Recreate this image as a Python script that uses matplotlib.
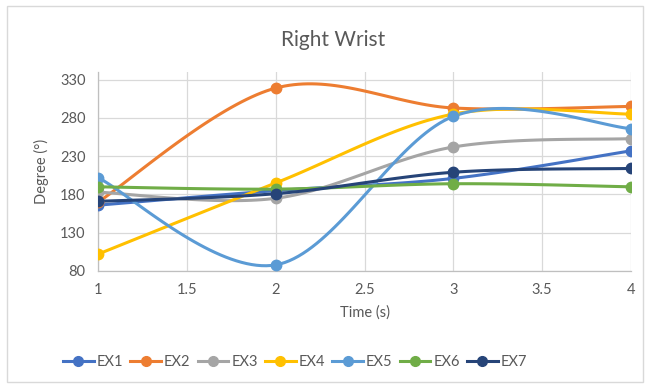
import numpy as np
import matplotlib.pyplot as plt
from matplotlib.patches import Rectangle

plt.rcParams['font.family'] = ['Lato', 'DejaVu Sans']

time_s = [1, 2, 3, 4]
ex1 = [166, 185, 201, 237]
ex2 = [170, 319, 293, 295]
ex3 = [183, 175, 242, 253]
ex4 = [102, 195, 285, 285]
ex5 = [202, 88, 282, 266]
ex6 = [190, 187, 194, 190]
ex7 = [171, 181, 209, 214]

names = ['EX1', 'EX2', 'EX3', 'EX4', 'EX5', 'EX6', 'EX7']
series = [ex1, ex2, ex3, ex4, ex5, ex6, ex7]
colors = ['#4472C4', '#ED7D31', '#A5A5A5', '#FFC000', '#5B9BD5', '#70AD47', '#264478']
text_color = '#595959'


def smooth(x, y, n=40):
    # cubic bezier through the points, spreadsheet-style smoothed line
    x = np.asarray(x, float)
    y = np.asarray(y, float)
    px = np.concatenate([[x[0]], x, [x[-1]]])
    py = np.concatenate([[y[0]], y, [y[-1]]])
    xs, ys = [], []
    t = np.linspace(0, 1, n)
    for i in range(1, len(px) - 2):
        p0 = np.array([px[i], py[i]])
        p3 = np.array([px[i + 1], py[i + 1]])
        p1 = p0 + (np.array([px[i + 1], py[i + 1]]) - np.array([px[i - 1], py[i - 1]])) / 6
        p2 = p3 - (np.array([px[i + 2], py[i + 2]]) - np.array([px[i], py[i]])) / 6
        b = ((1 - t) ** 3)[:, None] * p0 + (3 * (1 - t) ** 2 * t)[:, None] * p1 \
            + (3 * (1 - t) * t ** 2)[:, None] * p2 + (t ** 3)[:, None] * p3
        xs.extend(b[:, 0])
        ys.extend(b[:, 1])
    return xs, ys


fig = plt.figure(figsize=(6.5, 3.85), dpi=100)
ax = fig.add_axes([98 / 650, 1 - 271 / 385, 533 / 650, 199 / 385])

handles = []
for name, vals, c in zip(names, series, colors):
    sx, sy = smooth(time_s, vals)
    ax.plot(sx, sy, color=c, lw=2.2, solid_capstyle='round', zorder=3)
    ax.plot(time_s, vals, 'o', color=c, ms=7.5, zorder=4)
    h, = ax.plot([], [], color=c, lw=2.2, marker='o', ms=7, label=name)
    handles.append(h)

ax.set_xlim(1, 4)
ax.set_ylim(80, 340)
ax.set_xticks([1, 1.5, 2, 2.5, 3, 3.5, 4])
ax.set_xticklabels(['1', '1.5', '2', '2.5', '3', '3.5', '4'])
ax.set_yticks([80, 130, 180, 230, 280, 330])
ax.grid(True, color='#D9D9D9', lw=0.9)
ax.set_axisbelow(True)
for s in ['top', 'right']:
    ax.spines[s].set_visible(False)
for s in ['left', 'bottom']:
    ax.spines[s].set_color('#BFBFBF')
    ax.spines[s].set_linewidth(0.9)
ax.tick_params(length=0, labelsize=10.5, colors=text_color, pad=9)

fig.text(333 / 650, 1 - 40 / 385, 'Right Wrist', fontsize=15, color=text_color,
         ha='center', va='center')
ax.set_xlabel('Time (s)', fontsize=10.5, color=text_color, labelpad=6)
ax.set_ylabel('Degree (°)', fontsize=10.5, color=text_color, labelpad=8)

fig.legend(handles=handles, loc='center', bbox_to_anchor=(0.454, 1 - 362 / 385), ncol=7,
           frameon=False, fontsize=10.5, labelcolor=text_color, handlelength=2.1,
           handletextpad=0.2, columnspacing=0.5)

fig.patches.append(Rectangle((7 / 650, 3 / 385), 636 / 650, 376 / 385, transform=fig.transFigure,
                             fill=False, edgecolor='#D9D9D9', lw=1))

plt.savefig('out.png', dpi=100)
